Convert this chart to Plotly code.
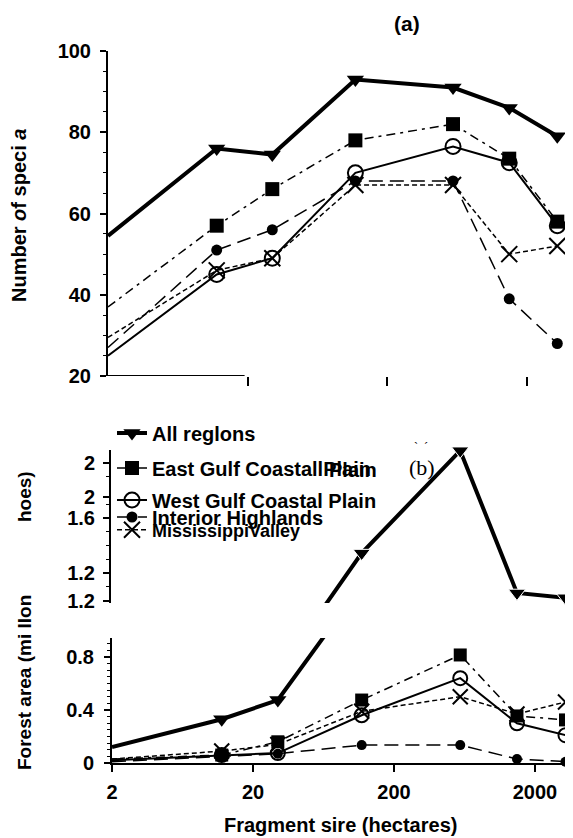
import math
import plotly.graph_objects as go

# page has an 8px body margin; figure is sized to fill the rest of the window
OFF = 8
W, H = 573 - OFF, 838 - OFF

# ---------------- data ----------------
fragment_size = [2, 12, 30, 118, 590, 1490, 3290]
x_tick_vals = [2, 20, 200, 2000]
x_tick_text = ["2", "20", "200", "2000"]

series_names = ["All reglons", "East Gulf CoastallPlain", "West Gulf Coastal Plain",
                "Interior Highlands", "MississippiValley"]

species_all = [54.5, 76, 74.5, 93, 91, 86, 79]
species_east = [37, 57, 66, 78, 82, 73.5, 58]
species_west = [25, 45, 49, 70, 76.5, 72.5, 57]
species_interior = [27, 51, 56, 68, 68, 39, 28]
species_miss = [29.5, 46, 49, 67, 67, 50, 52]

area_all = [0.12, 0.33, 0.475, 1.345, 2.09, 1.055, 1.02]
area_east = [0.03, 0.06, 0.16, 0.475, 0.815, 0.355, 0.325]
area_west = [0.02, 0.06, 0.075, 0.36, 0.64, 0.30, 0.21]
area_interior = [0.01, 0.05, 0.07, 0.135, 0.135, 0.03, 0.01]
area_miss = [0.03, 0.09, 0.14, 0.39, 0.50, 0.37, 0.46]

species_ticks = [20, 40, 60, 80, 100]
species_tick_text = ["20", "40", "60", "80", "100"]
species_minor = [25, 30, 35, 45, 50, 55, 65, 70, 75, 85, 90, 95]

area_low_ticks = [0, 0.4, 0.8]
area_low_text = ["0", "0.4", "0.8"]
area_low_minor = [0.05, 0.1, 0.15, 0.2, 0.25, 0.3, 0.35, 0.45, 0.5, 0.55, 0.6,
                  0.65, 0.7, 0.75, 0.85, 0.9]

area_high_ticks = [2.0, 1.75, 1.6, 1.2, 1.0]
area_high_text = ["2", "2", "1.6", "1.2", "1.2"]
area_high_minor = [1.1, 1.3, 1.4, 1.5, 1.7, 1.9]

species = [species_all, species_east, species_west, species_interior, species_miss]
areas = [area_all, area_east, area_west, area_interior, area_miss]

LOW_TOP = 0.943
HIGH_RANGE = [0.982, 2.095]

# ---------------- styles ----------------
FONT = "Liberation Sans"
styles = [
    dict(symbol="triangle-down", size=15, dash="solid", width=4, mlw=0),
    dict(symbol="square", size=14, dash="9px,5px,3px,5px", width=1.5, mlw=0),
    dict(symbol="circle-open", size=15, dash="solid", width=2, mlw=2),
    dict(symbol="circle", size=11, dash="14px,7px", width=1.5, mlw=0),
    dict(symbol="x-thin-open", size=16, dash="5px,3px", width=1.5, mlw=2),
]
legend_keys = ["legend", "legend2", "legend3", "legend4", "legend5"]
legend_yc = [433, 468, 500, 517, 530]
legend_fs = [20, 20, 20, 20, 18]


def px(p):
    return (p - OFF) / W


def py(p):
    return 1 - (p - OFF) / H


fig = go.Figure()

for i, st in enumerate(styles):
    fig.add_trace(go.Scatter(
        x=fragment_size, y=species[i], xaxis="x", yaxis="y",
        mode="lines+markers", name=series_names[i], legend=legend_keys[i],
        line=dict(color="black", width=st["width"], dash=st["dash"]),
        marker=dict(symbol=st["symbol"], size=st["size"], color="black", opacity=1,
                    line=dict(color="black", width=st["mlw"])),
        cliponaxis=False, showlegend=True))

for i, st in enumerate(styles):
    if i == 0:
        sizes = [st["size"] if v <= LOW_TOP else 0 for v in areas[i]]
    else:
        sizes = st["size"] - 1
    fig.add_trace(go.Scatter(
        x=fragment_size, y=areas[i], xaxis="x2", yaxis="y2",
        mode="lines+markers", showlegend=False,
        line=dict(color="black", width=st["width"], dash=st["dash"]),
        marker=dict(symbol=st["symbol"], size=sizes, color="black", opacity=1,
                    line=dict(color="black", width=st["mlw"])),
        cliponaxis=False))

st = styles[0]
fig.add_trace(go.Scatter(
    x=fragment_size, y=area_all, xaxis="x2", yaxis="y3",
    mode="lines+markers", showlegend=False,
    line=dict(color="black", width=st["width"]),
    marker=dict(symbol=st["symbol"], opacity=1,
                size=[st["size"] if v >= HIGH_RANGE[0] else 0 for v in area_all],
                color="black"),
    cliponaxis=False))

bold20 = dict(family=FONT, size=20, color="black", weight="bold")
lx = math.log10(2)
common_ax = dict(showgrid=False, zeroline=False, color="black", linecolor="black",
                 tickcolor="black")


def yax(domain, rng, ticks, text, minor_vals, standoff, anchor, position=None):
    """main (outside ticks, labels) + twin (inside ticks) -> crossing ticks"""
    main = dict(domain=domain, range=rng, anchor=anchor, showline=True, linewidth=2,
                ticks="outside", ticklen=6, tickwidth=2, tickvals=ticks, ticktext=text,
                tickfont=bold20, ticklabelstandoff=standoff,
                minor=dict(tickvals=minor_vals, ticks="outside", ticklen=3, tickwidth=1.3,
                           tickcolor="black"),
                **common_ax)
    twin = dict(range=rng, anchor=anchor, showline=True, linewidth=2,
                ticks="inside", ticklen=5, tickwidth=2, tickvals=ticks,
                showticklabels=False,
                minor=dict(tickvals=minor_vals, ticks="inside", ticklen=3, tickwidth=1.3,
                           tickcolor="black"),
                **common_ax)
    if position is not None:
        main["position"] = position
        twin["position"] = position
    return main, twin


ya_main, ya_twin = yax([py(376), py(51)], [20, 100], species_ticks, species_tick_text,
                       species_minor, 5, "x")
yb_main, yb_twin = yax([py(763), py(638)], [0, LOW_TOP], area_low_ticks, area_low_text,
                       area_low_minor, 6, "x2")
yc_main, yc_twin = yax([py(603), py(450)], HIGH_RANGE, area_high_ticks, area_high_text,
                       area_high_minor, 4, "free", px(110))
ya_twin["overlaying"] = "y"
yb_twin["overlaying"] = "y2"
yc_twin["overlaying"] = "y3"

layout = dict(
    width=W, height=H, margin=dict(l=0, r=0, t=0, b=0, autoexpand=False),
    paper_bgcolor="white", plot_bgcolor="white",
    font=dict(family=FONT, color="black"),
    xaxis=dict(type="log", domain=[px(108), 1], range=[lx, lx + 465 / 139.7], anchor="y",
               showline=False, ticks="outside", tickvals=x_tick_vals[1:], ticklen=9,
               tickwidth=2, showticklabels=False, **common_ax),
    yaxis=ya_main, yaxis4=ya_twin,
    xaxis2=dict(type="log", domain=[px(112), 1], range=[lx, lx + 461 / 141], anchor="y2",
                showline=True, linewidth=2, ticks="outside", ticklen=7, tickwidth=2,
                tickvals=x_tick_vals, ticktext=x_tick_text, tickfont=bold20,
                ticklabelstandoff=3, **common_ax),
    yaxis2=yb_main, yaxis5=yb_twin,
    yaxis3=yc_main, yaxis6=yc_twin,
)

for i, key in enumerate(legend_keys):
    layout[key] = dict(
        x=px(112), xanchor="left", y=py(legend_yc[i]), yanchor="middle",
        bgcolor="rgba(0,0,0,0)", borderwidth=0, itemwidth=30,
        font=dict(family=FONT, size=legend_fs[i], color="black", weight="bold"))

fig.update_layout(**layout)

fig.add_shape(type="line", xref="x", yref="y", x0=2, x1=19, y0=20, y1=20,
              line=dict(color="black", width=2))

annots = [
    dict(text="(a)", x=px(407), y=py(23), font=dict(family=FONT, size=21, weight="bold")),
    dict(text="(b)", x=px(422), y=py(467), font=dict(family="Liberation Serif", size=22)),
    dict(text="`  ´", x=px(421), y=py(447), font=dict(family="Liberation Serif", size=12)),
    dict(text="Plain", x=px(327), y=py(470), xanchor="left",
         font=dict(family=FONT, size=20, weight="bold")),
    dict(text="Number <i>o</i>f speci <i>a</i>", x=px(19), y=py(216), textangle=-90,
         font=dict(family=FONT, size=20, weight="bold")),
    dict(text="Forest area (mi llon", x=px(24), y=py(683), textangle=-90,
         font=dict(family=FONT, size=19, weight="bold")),
    dict(text="hoes)", x=px(24), y=py(497), textangle=-90,
         font=dict(family=FONT, size=19, weight="bold")),
    dict(text="Fragment sire (hectares)", x=px(340), y=py(825),
         font=dict(family=FONT, size=20, weight="bold")),
]
for a in annots:
    a.setdefault("xanchor", "center")
    a.update(xref="paper", yref="paper", showarrow=False, yanchor="middle")
    a["font"]["color"] = "black"
    fig.add_annotation(**a)

fig.write_html("out.html")
